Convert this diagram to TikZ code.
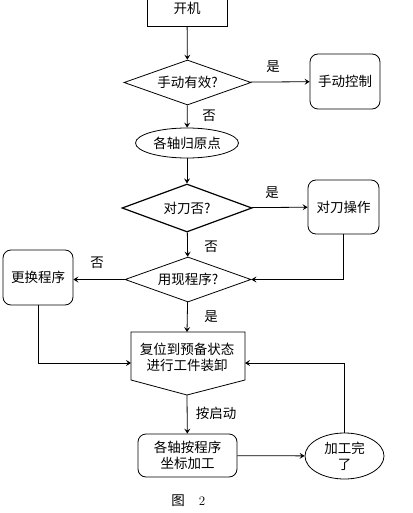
\documentclass[tikz,border=0pt]{standalone}
\usepackage{fontspec}
\newfontfamily\cjk{Noto Sans CJK SC}
\usetikzlibrary{shapes.geometric,arrows.meta}
\begin{document}
\begin{tikzpicture}[>={Stealth[length=5pt,width=6pt,inset=2pt]},x=1pt,y=-1pt,line width=.8pt,
  every node/.style={font=\cjk\fontsize{13.5}{16}\selectfont},
  dec/.style={draw,diamond,aspect=2.8,inner sep=0pt,minimum width=127pt,minimum height=45pt},
  rbox/.style={draw,rounded corners=8pt,minimum width=71pt,minimum height=54pt},
  oval/.style={draw,ellipse,inner sep=0pt}]
\useasboundingbox (0,0) rectangle (412,513);
\node[draw,minimum width=80pt,minimum height=36pt](start)at(187,8){开机};
\node[dec](manq)at(187.5,82.5){手动有效?};
\node[rbox,minimum width=70pt,minimum height=55pt](manual)at(345,81.5){手动控制};
\node[oval,minimum width=103pt,minimum height=30pt](home)at(187,143){各轴归原点};
\node[dec,line width=1.2pt,minimum width=130pt,minimum height=48pt](toolq)at(187,208){对刀否?};
\node[rbox](tool)at(343.5,207){对刀操作};
\node[dec,minimum width=126pt](progq)at(188,279.5){用现程序?};
\node[rbox,minimum width=70pt,minimum height=55pt](change)at(38,277.5){更换程序};
% reset box, pointed at the bottom
\draw(131,332)--(245,332)--(245,380)--(187,395)--(131,380)--cycle;
\node[align=center](reset)at(187,357){复位到预备状态\\进行工件装卸};
\coordinate(resettop)at(187,332);
\coordinate(resetbot)at(187,395);
\coordinate(resetl)at(131,363);
\coordinate(resetr)at(245,363);
\node[rbox,minimum width=99pt,minimum height=43pt,align=center](run)at(187.5,455.5){各轴按程序\\坐标加工};
\node[oval,minimum width=79pt,minimum height=46pt,align=center](done)at(344.5,456){加工完\\了};
% connectors
\draw[->](start)--(manq);
\draw[->](manq)--(manual);
\draw[->](manq)--(home);
\draw[->](home)--(toolq);
\draw[->](toolq)--(tool);
\draw[->](toolq)--(progq);
\draw[->](tool)|-(progq);
\draw[->](progq.west)--(progq.west-|change.east);
\draw[->](progq)--(resettop);
\draw[->](change)|-(resetl);
\draw[->](resetbot)--(run);
\draw[->](run)--(done);
\draw[->](done)|-(resetr);
% labels
\node(yes1)at(273,67){是};
\node(no1)at(209,116){否};
\node(yes2)at(272,193){是};
\node(no2)at(211,247){否};
\node(no3)at(97,263){否};
\node(yes3)at(211,317){是};
\node(press)at(216,413){按启动};
\node(fig)at(178,501){图};
\node[font=\fontsize{13}{16}\selectfont\rmfamily](num)at(202,501){2};
\end{tikzpicture}
\end{document}
